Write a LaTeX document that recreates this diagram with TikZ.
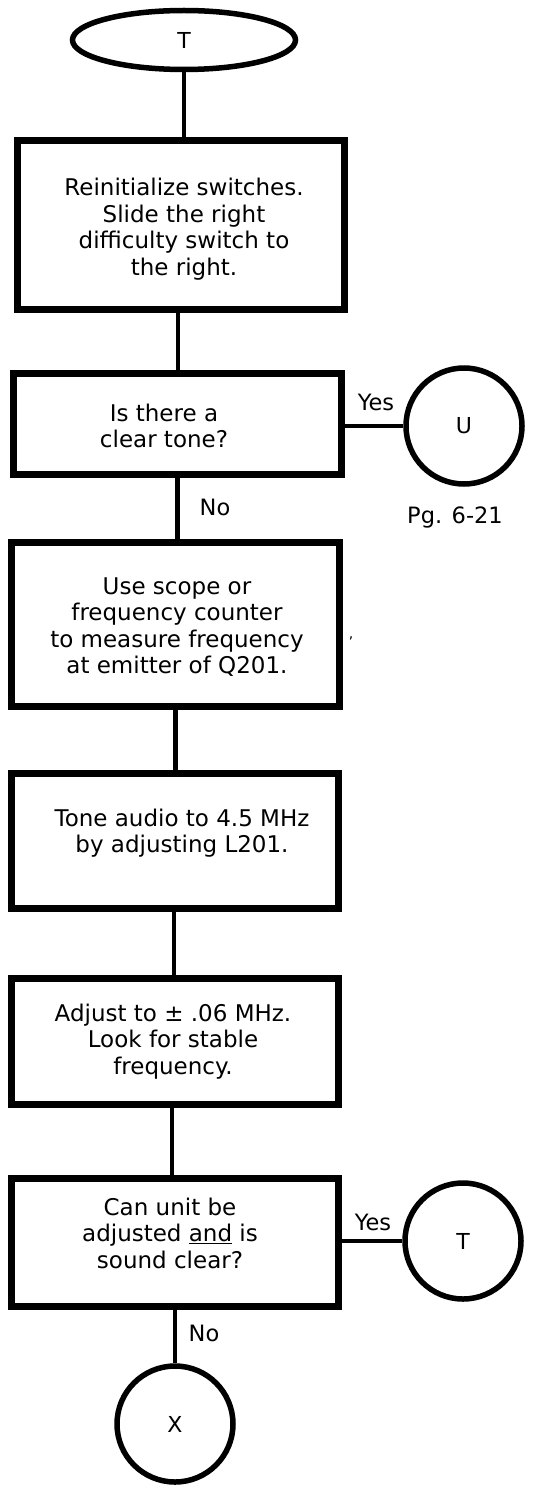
\documentclass[tikz,border=0pt]{standalone}
\usepackage{fontspec}
\setmainfont{DejaVu Sans}
\usetikzlibrary{shapes.geometric}
\begin{document}
\begin{tikzpicture}[x=1pt,y=-1pt,
  boxnode/.style={draw, line width=6.5pt, rectangle, inner sep=0pt},
  txt/.style={align=center, font=\fontsize{23pt}{26.5pt}\selectfont, inner sep=0pt},
  lbl/.style={font=\fontsize{22.5pt}{26pt}\selectfont, inner sep=0pt},
  conn/.style={draw, line width=4.5pt},
  term/.style={draw, line width=5.5pt, circle, inner sep=0pt, minimum size=116pt, font=\fontsize{22pt}{26pt}\selectfont}]
\useasboundingbox (0,0) rectangle (536,1487);
% start terminal
\node[draw, line width=5.5pt, ellipse, inner sep=0pt, minimum width=223pt, minimum height=59pt, font=\fontsize{22pt}{26pt}\selectfont] (T) at (184,40) {T};
% boxes
\node[boxnode, minimum width=327pt, minimum height=169pt] (b1) at (181,225) {};
\node[boxnode, minimum width=328pt, minimum height=101pt] (b2) at (177.5,424) {};
\node[boxnode, minimum width=328pt, minimum height=164pt] (b3) at (175.5,624.5) {};
\node[boxnode, minimum width=327pt, minimum height=135pt] (b4) at (175,841) {};
\node[boxnode, minimum width=327pt, minimum height=126pt] (b5) at (175,1041.5) {};
\node[boxnode, minimum width=327pt, minimum height=128pt] (b6) at (175,1242.5) {};
% texts
\node[txt] (t1) at (184,229) {Reinitialize switches.\\Slide the right\\difficulty switch to\\the right.};
\node[txt] (t2) at (164,426) {Is there a\\clear tone?};
\node[txt] (t3) at (177,627) {Use scope or\\frequency counter\\to measure frequency\\at emitter of Q201.};
\node[txt] (t4) at (182,833) {Tone audio to 4.5 MHz\\by adjusting L201.};
\node[txt] (t5) at (173,1041.5) {Adjust to ± .06 MHz.\\Look for stable\\frequency.};
\node[txt] (t6) at (170,1233) {Can unit be\\adjusted \underline{and} is\\sound clear?};
% circles
\node[term] (U) at (464,426) {U};
\node[term] (T2) at (463,1241) {T};
\node[term] (X) at (175,1424) {X};
% labels
\node[lbl] (yes1) at (376,402) {Yes};
\node[lbl] (no1) at (215,507) {No};
\node[lbl] (pg) at (455,517) {Pg. 6-21};
\node[lbl] (yes2) at (373,1222) {Yes};
\node[lbl] (no2) at (204,1333) {No};
\node[font=\fontsize{14pt}{16pt}\selectfont, inner sep=0pt] (mark) at (351,638) {,};
% connectors
\draw[conn] (T.south) -- (T.south |- b1.north);
\draw[conn] ([xshift=-3pt]b1.south) -- ([xshift=-3pt]b1.south |- b2.north);
\draw[conn] (b2.south) -- (b2.south |- b3.north);
\draw[conn] (b3.south) -- (b3.south |- b4.north);
\draw[conn] ([xshift=-1pt]b4.south) -- ([xshift=-1pt]b4.south |- b5.north);
\draw[conn] ([xshift=-3pt]b5.south) -- ([xshift=-3pt]b5.south |- b6.north);
\draw[conn] (b6.south) -- (X.north);
\draw[conn] (b2.east |- U.west) -- (U.west);
\draw[conn] (b6.east |- T2.west) -- (T2.west);
\end{tikzpicture}
\end{document}
